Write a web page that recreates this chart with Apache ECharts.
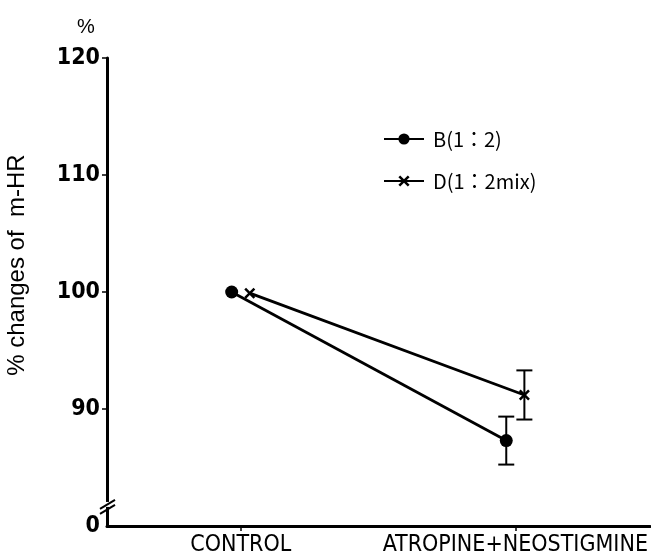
<!DOCTYPE html>
<html>
<head>
<meta charset="utf-8">
<script src="https://cdn.jsdelivr.net/npm/echarts@6/dist/echarts.min.js"></script>
<style>html,body{margin:0;padding:0;background:#fff;}#c{width:651px;height:560px;}</style>
</head>
<body>
<div id="c"></div>
<script>
// ---- data ----
const categories = ['CONTROL', 'ATROPINE+NEOSTIGMINE'];
const seriesNames = ['B(1：2)', 'D(1：2mix)'];
const meanB = [100, 87.3];
const errB = [0, 2.05];
const meanD = [99.9, 91.2];
const errD = [0, 2.1];
const yTickValues = [90, 100, 110, 120];
const yBaseValue = 80;      // shown as "0" (broken axis)
const yBaseLabel = '0';

const OFFSET = 0.033; // horizontal offset of the two series around a category
const NARROW = '"Liberation Sans Narrow","DejaVu Sans Condensed","Liberation Sans",sans-serif';

function pts(mean, dx) { return mean.map((v, i) => [i + dx, v]); }
function errs(mean, err, dx) {
  return mean.map((v, i) => [i + dx, v - err[i], v + err[i]]).filter((d, i) => err[i] > 0);
}
const crossPath = 'path://M0,1.6L1.6,0L5,3.4L8.4,0L10,1.6L6.6,5L10,8.4L8.4,10L5,6.6L1.6,10L0,8.4L3.4,5Z';

function errorSeries(data) {
  return {
    type: 'custom',
    data: data,
    silent: true,
    z: 5,
    renderItem: function (params, api) {
      const x = api.value(0);
      const lo = api.coord([x, api.value(1)]);
      const hi = api.coord([x, api.value(2)]);
      const hw = 8;
      const style = { stroke: '#000', lineWidth: 2 };
      return {
        type: 'group',
        children: [
          { type: 'line', shape: { x1: lo[0], y1: lo[1], x2: hi[0], y2: hi[1] }, style: style },
          { type: 'line', shape: { x1: lo[0] - hw, y1: lo[1], x2: lo[0] + hw, y2: lo[1] }, style: style },
          { type: 'line', shape: { x1: hi[0] - hw, y1: hi[1], x2: hi[0] + hw, y2: hi[1] }, style: style }
        ]
      };
    }
  };
}

const chart = echarts.init(document.getElementById('c'), null, { renderer: 'canvas' });
const option = {
  backgroundColor: '#fff',
  animation: false,
  grid: { left: 107, right: 0, top: 58, bottom: 34 },
  xAxis: {
    type: 'value',
    min: -0.487, max: 1.491,
    splitLine: { show: false },
    axisLine: { show: true, onZero: false, lineStyle: { color: '#000', width: 3 } },
    axisTick: { show: true, customValues: [0, 1], length: 5, lineStyle: { color: '#000', width: 1.5 } },
    axisLabel: {
      customValues: [0, 1],
      formatter: v => categories[Math.round(v)] || '',
      color: '#000', fontFamily: NARROW, fontSize: 23, margin: 8
    }
  },
  yAxis: {
    type: 'value',
    min: yBaseValue, max: 120, interval: 10,
    splitLine: { show: false },
    axisLine: { show: true, onZero: false, lineStyle: { color: '#000', width: 3 } },
    axisTick: { show: true, customValues: yTickValues, length: 5, lineStyle: { color: '#000', width: 1.5 } },
    axisLabel: {
      customValues: [yBaseValue].concat(yTickValues),
      formatter: v => (v === yBaseValue ? yBaseLabel : String(v)),
      color: '#000', fontFamily: NARROW, fontSize: 23, fontWeight: 'bold', margin: 7
    }
  },
  legend: {
    orient: 'vertical',
    left: 378, top: 124,
    itemWidth: 40, itemHeight: 14, itemGap: 22,
    textStyle: { color: '#000', fontSize: 20, fontFamily: '"Noto Sans CJK JP","Liberation Sans",sans-serif', padding: [0, 0, 0, 4] },
    data: seriesNames
  },
  series: [
    {
      name: seriesNames[0], type: 'line', data: pts(meanB, -OFFSET),
      symbol: 'circle', symbolSize: 13,
      lineStyle: { color: '#000', width: 2.8 },
      itemStyle: { color: '#000' }, z: 3
    },
    {
      name: seriesNames[1], type: 'line', data: pts(meanD, OFFSET),
      symbol: crossPath, symbolSize: 11,
      lineStyle: { color: '#000', width: 2.8 },
      itemStyle: { color: '#000' }, z: 3
    },
    errorSeries(errs(meanB, errB, -OFFSET)),
    errorSeries(errs(meanD, errD, OFFSET))
  ]
};
chart.setOption(option);

// axis decorations: unit, title, break marks (positions derived from the scale)
const ax = chart.convertToPixel({ xAxisIndex: 0 }, -0.487);
const yBreak = chart.convertToPixel({ yAxisIndex: 0 }, 81.8);
const yMid = chart.convertToPixel({ yAxisIndex: 0 }, 102.3);
const yTop = chart.convertToPixel({ yAxisIndex: 0 }, 120);
chart.setOption({
  graphic: [
    { type: 'rect', shape: { x: ax - 4, y: yBreak - 3, width: 8, height: 5 }, style: { fill: '#fff' }, z: 100 },
    { type: 'line', shape: { x1: ax - 7, y1: yBreak + 4, x2: ax + 8, y2: yBreak - 5 }, style: { stroke: '#000', lineWidth: 2 }, z: 101 },
    { type: 'line', shape: { x1: ax - 7, y1: yBreak + 9, x2: ax + 8, y2: yBreak }, style: { stroke: '#000', lineWidth: 2 }, z: 101 },
    { type: 'text', x: ax - 21, y: yTop - 31, style: { text: '%', fill: '#000', font: '20px "Liberation Sans", sans-serif', align: 'center', verticalAlign: 'middle' }, z: 100 },
    { type: 'text', x: 17, y: yMid, rotation: Math.PI / 2,
      style: { text: '% changes of  m-HR', fill: '#000', font: '24px "Liberation Sans", sans-serif', align: 'center', verticalAlign: 'middle' }, z: 100 }
  ]
});
</script>
</body>
</html>
